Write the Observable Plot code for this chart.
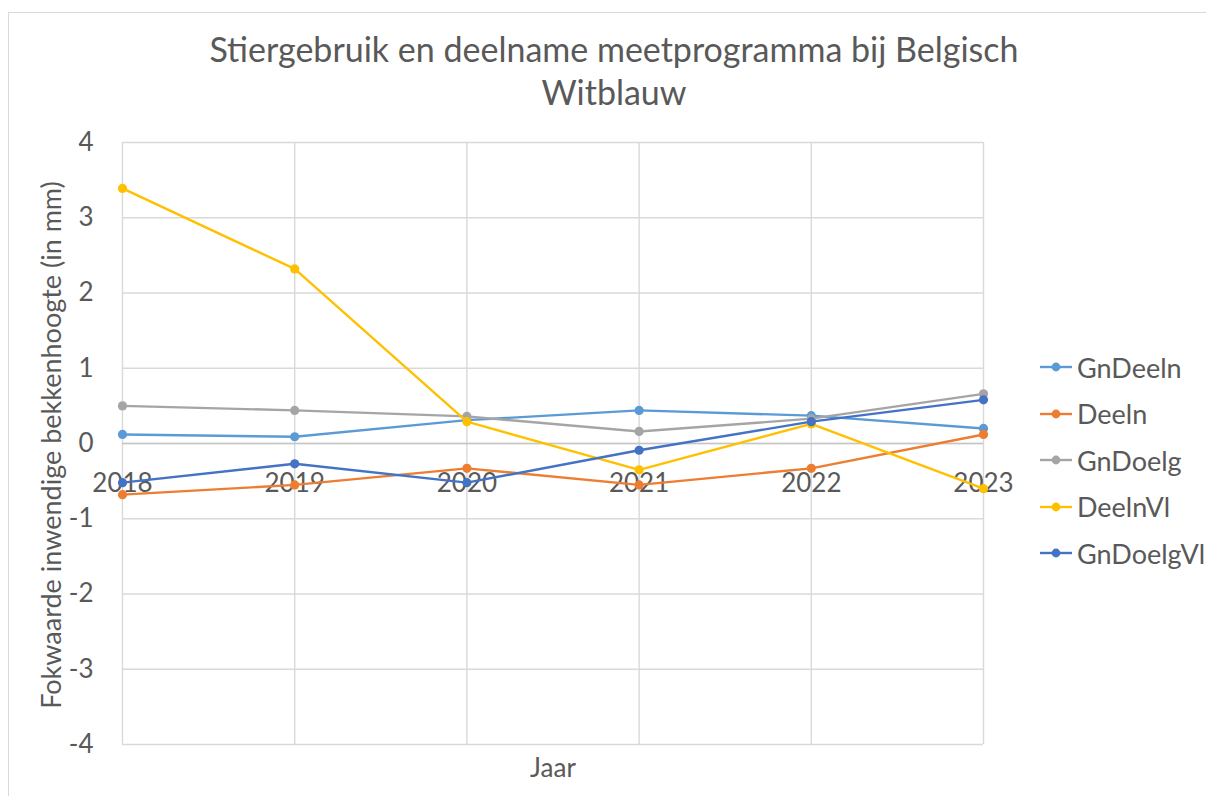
<!DOCTYPE html>
<html>
<head>
<meta charset="utf-8">
<script src="https://cdn.jsdelivr.net/npm/d3@7"></script>
<script src="https://cdn.jsdelivr.net/npm/@observablehq/plot@0.6"></script>
<style>
  html, body { margin: 0; padding: 0; background: #fff; overflow: hidden; }
  #wrap { position: relative; width: 1206px; height: 796px; font-family: Lato, "Open Sans", sans-serif; color: #595959; }
  #frame { position: absolute; left: 8px; top: 12px; width: 1220px; height: 820px; border: 1px solid #d9d9d9; box-sizing: border-box; }
  #chart { position: absolute; left: 0; top: 0; }
  #title { position: absolute; left: 114px; width: 1000px; top: 27px; text-align: center; font-size: 34px; line-height: 43px; }
  #ylab { position: absolute; left: 50px; top: 445px; font-size: 27px; white-space: nowrap; transform: translate(-50%, -50%) rotate(-90deg); }
  #xlab { position: absolute; left: 553px; top: 767px; font-size: 26px; transform: translate(-50%, -50%); }
  #legend { position: absolute; left: 1040px; top: 344px; }
  .item { display: flex; align-items: center; height: 46.5px; font-size: 27px; }
  .item svg { margin-right: 5px; }
</style>
</head>
<body>
<div id="wrap">
  <div id="frame"></div>
  <div id="chart"></div>
  <div id="title">Stiergebruik en deelname meetprogramma bij Belgisch<br>Witblauw</div>
  <div id="ylab">Fokwaarde inwendige bekkenhoogte (in mm)</div>
  <div id="xlab">Jaar</div>
  <div id="legend"></div>
</div>
<script>
const years = [2018, 2019, 2020, 2021, 2022, 2023];
const seriesNames = ["GnDeeln", "Deeln", "GnDoelg", "DeelnVl", "GnDoelgVl"];
const seriesColors = ["#5B9BD5", "#ED7D31", "#A5A5A5", "#FFC000", "#4472C4"];
const gnDeeln   = [0.12, 0.09, 0.31, 0.44, 0.37, 0.20];
const deeln     = [-0.68, -0.55, -0.33, -0.55, -0.33, 0.12];
const gnDoelg   = [0.50, 0.44, 0.36, 0.16, 0.33, 0.66];
const deelnVl   = [3.39, 2.32, 0.29, -0.35, 0.26, -0.60];
const gnDoelgVl = [-0.52, -0.27, -0.52, -0.09, 0.29, 0.58];
const yTicks = [-4, -3, -2, -1, 0, 1, 2, 3, 4];

const seriesValues = [gnDeeln, deeln, gnDoelg, deelnVl, gnDoelgVl];
const data = seriesNames.map((name, i) =>
  years.map((year, j) => ({ series: name, year, value: seriesValues[i][j] }))
);

const seriesMarks = data.flatMap(rows => [
  Plot.line(rows, { x: "year", y: "value", stroke: "series", strokeWidth: 2.4 }),
  Plot.dot(rows, { x: "year", y: "value", fill: "series", r: 4.6 })
]);

const chart = Plot.plot({
  width: 1206,
  height: 796,
  marginLeft: 122,
  marginRight: 223,
  marginTop: 142,
  marginBottom: 52,
  x: { type: "linear", domain: [2018, 2023], axis: null },
  y: { domain: [-4, 4], axis: null },
  color: { domain: seriesNames, range: seriesColors },
  style: { fontFamily: "Lato, 'Open Sans', sans-serif", color: "#595959", background: "transparent" },
  marks: [
    Plot.ruleY(yTicks, { stroke: "#d9d9d9", strokeWidth: 1.4 }),
    Plot.ruleX(years, { stroke: "#d9d9d9", strokeWidth: 1.4 }),
    Plot.ruleY([0], { stroke: "#c6c6c6", strokeWidth: 1.6 }),
    Plot.axisY(yTicks, { tickSize: 0, tickPadding: 29, fontSize: 26, label: null, fill: "#595959", tickFormat: d => String(d) }),
    Plot.text(years, { x: d => d, y: 0, dy: 40, text: d => String(d), fontSize: 26, fill: "#595959" }),
    ...seriesMarks
  ]
});
document.getElementById("chart").appendChild(chart);

const legend = document.getElementById("legend");
seriesNames.forEach((name, i) => {
  const item = document.createElement("div");
  item.className = "item";
  item.innerHTML = `<svg width="32" height="12"><line x1="0" y1="6" x2="32" y2="6" stroke="${seriesColors[i]}" stroke-width="2.4"/><circle cx="16" cy="6" r="4.4" fill="${seriesColors[i]}"/></svg><span>${name}</span>`;
  legend.appendChild(item);
});
</script>
</body>
</html>
